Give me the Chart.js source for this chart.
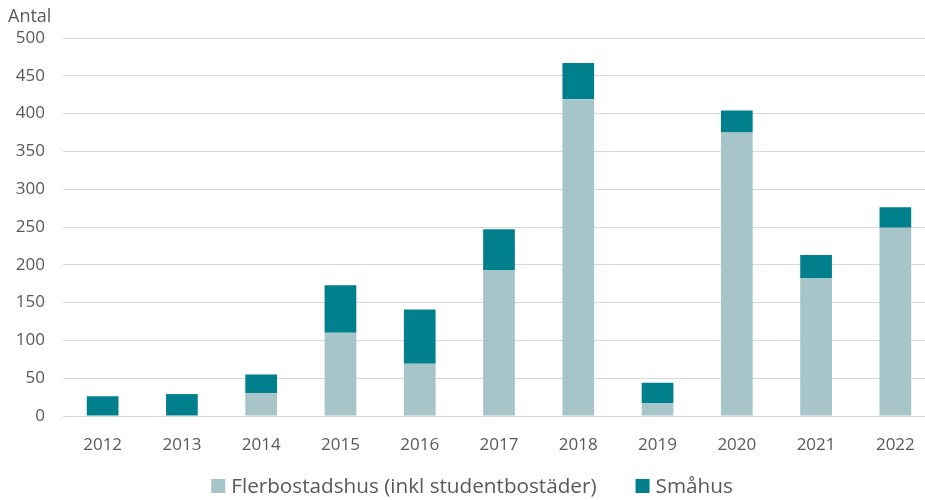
<!DOCTYPE html>
<html>
<head>
<meta charset="utf-8">
<script src="https://cdn.jsdelivr.net/npm/chart.js@4"></script>
<style>
  html, body { margin: 0; padding: 0; background: #fff; overflow: hidden; }
  #wrap { width: 935px; height: 500px; }
</style>
</head>
<body>
<div id="wrap"><canvas id="barChart" width="935" height="500"></canvas></div>
<script>
// år på x-axeln
var years = ['2012','2013','2014','2015','2016','2017','2018','2019','2020','2021','2022'];
// antal lägenheter per hustyp
var flerbostadshus = [0, 0, 30, 110, 69, 193, 419, 17, 375, 182, 249];
var smahus = [26, 29, 25, 63, 72, 54, 48, 27, 29, 31, 27];

var labelFont = "'Open Sans', 'Liberation Sans', sans-serif";
var textColor = '#595959';

// "Antal" ovanför y-axeln
var axisTitle = {
  id: 'axisTitle',
  afterDraw: function(chart) {
    var c = chart.ctx;
    c.save();
    c.font = '18px ' + labelFont;
    c.fillStyle = textColor;
    c.textBaseline = 'middle';
    c.textAlign = 'left';
    c.fillText('Antal', 8, 17);
    c.restore();
  }
};

// egen legend under diagrammet (större mellanrum mellan posterna)
var bottomLegend = {
  id: 'bottomLegend',
  afterDraw: function(chart) {
    var c = chart.ctx;
    var sets = chart.data.datasets;
    var box = 14, gapText = 6, gapItem = 39, y = 486;
    c.save();
    c.font = '20.7px ' + labelFont;
    var total = 0;
    sets.forEach(function(ds, i) {
      total += box + gapText + c.measureText(ds.label).width;
      if (i < sets.length - 1) total += gapItem;
    });
    var x = 472 - total / 2;
    c.textBaseline = 'middle';
    c.textAlign = 'left';
    sets.forEach(function(ds) {
      c.fillStyle = ds.backgroundColor;
      c.fillRect(x, y - box / 2, box, box);
      x += box + gapText;
      c.fillStyle = textColor;
      c.fillText(ds.label, x, y + 1);
      x += c.measureText(ds.label).width + gapItem;
    });
    c.restore();
  }
};

var ctx = document.getElementById('barChart').getContext('2d');
var myChart = new Chart(ctx, {
  type: 'bar',
  data: {
    labels: years,
    datasets: [{
      label: 'Flerbostadshus (inkl studentbostäder)',
      data: flerbostadshus,
      backgroundColor: '#A7C4C9',
      borderWidth: 0,
      barPercentage: 0.4,
      categoryPercentage: 1
    }, {
      label: 'Småhus',
      data: smahus,
      backgroundColor: '#00808D',
      borderWidth: 0,
      barPercentage: 0.4,
      categoryPercentage: 1
    }]
  },
  options: {
    responsive: false,
    animation: false,
    layout: { padding: { top: 38, right: 0, left: 0, bottom: 0 } },
    plugins: {
      tooltip: { enabled: false },
      legend: { display: false }
    },
    scales: {
      x: {
        stacked: true,
        grid: { display: false },
        border: { display: false },
        ticks: { font: { family: labelFont, size: 17 }, color: textColor, padding: 11 },
        afterFit: function(scale) { scale.height = 84; }
      },
      y: {
        stacked: true,
        min: 0,
        max: 500,
        ticks: { stepSize: 50, font: { family: labelFont, size: 17 }, color: textColor, padding: 18 },
        grid: { color: '#d9d9d9', lineWidth: 1, drawTicks: false },
        border: { display: false },
        afterFit: function(scale) { scale.width = 63; }
      }
    }
  },
  plugins: [axisTitle, bottomLegend]
});
</script>
</body>
</html>
